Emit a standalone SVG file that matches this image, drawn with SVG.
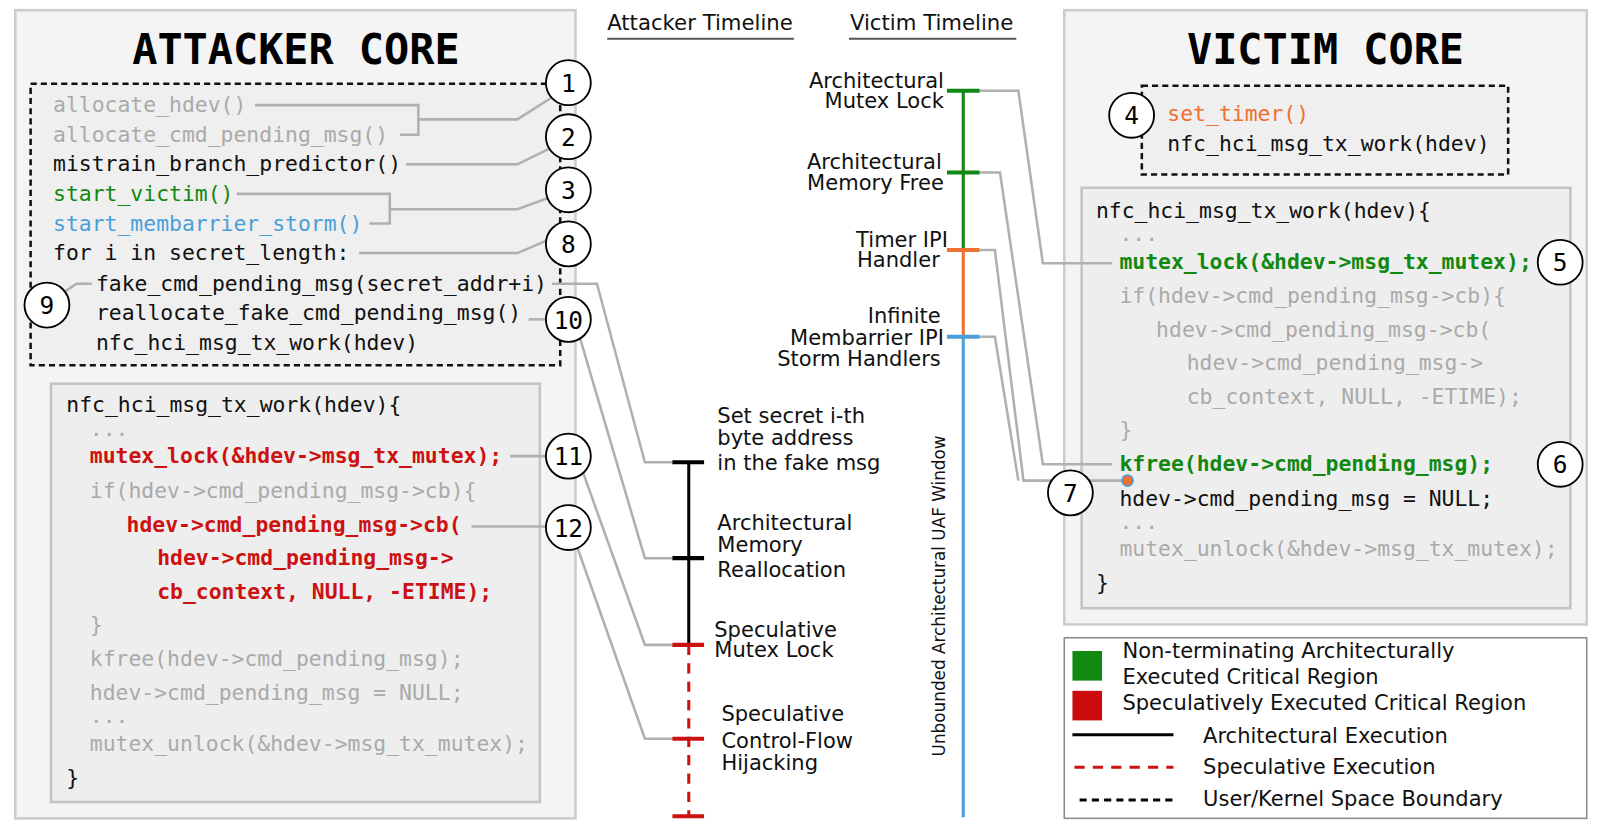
<svg xmlns="http://www.w3.org/2000/svg" width="1600" height="832" viewBox="0 0 1600 832">
<style>
.core{fill:#f4f4f4;stroke:#cccccc;stroke-width:2.5}
.code{fill:#eeeeee;stroke:#c4c4c4;stroke-width:2.5}
.ub{fill:#efefef;stroke:#111;stroke-width:2.5;stroke-dasharray:6 4}
.title{font-family:"DejaVu Sans Mono",monospace;font-weight:bold;font-size:41px;fill:#000}
.m{font-family:"DejaVu Sans Mono",monospace;font-size:21px;fill:#111}
.b{font-weight:bold}
.g{fill:#aaaaaa}
.red{fill:#cc1111}
.grn{fill:#118811}
.blu{fill:#4a9fd8}
.org{fill:#f07030}
.s{font-family:"DejaVu Sans",Verdana,sans-serif;font-size:20.6px;fill:#111}
.lead{fill:none;stroke:#b0b0b0;stroke-width:2.5;stroke-linejoin:miter}
.num circle{fill:#fff;stroke:#000;stroke-width:1.8}
.num text{font-family:"DejaVu Sans Mono",monospace;font-size:24px;fill:#000;text-anchor:middle}
.hdr{font-family:"DejaVu Sans",Verdana,sans-serif;font-size:20.8px;fill:#111;text-anchor:middle}
</style>
<g transform="scale(1.0204)">
<!-- Attacker core -->
<g id="attacker-core">
<rect class="core" x="15" y="10" width="549" height="792"/>
<text class="title" x="290" y="63" text-anchor="middle">ATTACKER CORE</text>
<rect class="ub" x="30" y="82" width="519" height="276"/>
<text class="m g" x="52" y="110">allocate_hdev()</text>
<text class="m g" x="52" y="139">allocate_cmd_pending_msg()</text>
<text class="m" x="52" y="168">mistrain_branch_predictor()</text>
<text class="m grn" x="52" y="197">start_victim()</text>
<text class="m blu" x="52" y="226">start_membarrier_storm()</text>
<text class="m" x="52" y="255">for i in secret_length:</text>
<text class="m" x="94" y="285">fake_cmd_pending_msg(secret_addr+i)</text>
<text class="m" x="94" y="314">reallocate_fake_cmd_pending_msg()</text>
<text class="m" x="94" y="343">nfc_hci_msg_tx_work(hdev)</text>
</g>

<g id="attacker-code">
<rect class="code" x="50" y="376" width="479" height="410"/>
<text class="m" x="65" y="404">nfc_hci_msg_tx_work(hdev){</text>
<text class="m g" x="88" y="427">...</text>
<text class="m b red" x="88" y="454">mutex_lock(&amp;hdev-&gt;msg_tx_mutex);</text>
<text class="m g" x="88" y="488">if(hdev-&gt;cmd_pending_msg-&gt;cb){</text>
<text class="m b red" x="124" y="521">hdev-&gt;cmd_pending_msg-&gt;cb(</text>
<text class="m b red" x="154" y="554">hdev-&gt;cmd_pending_msg-&gt;</text>
<text class="m b red" x="154" y="587">cb_context, NULL, -ETIME);</text>
<text class="m g" x="88" y="619">}</text>
<text class="m g" x="88" y="653">kfree(hdev-&gt;cmd_pending_msg);</text>
<text class="m g" x="88" y="686">hdev-&gt;cmd_pending_msg = NULL;</text>
<text class="m g" x="88" y="709">...</text>
<text class="m g" x="88" y="736">mutex_unlock(&amp;hdev-&gt;msg_tx_mutex);</text>
<text class="m" x="65" y="769">}</text>
</g>

<!-- Victim core -->
<g id="victim-core">
<rect class="core" x="1043" y="10" width="512" height="602"/>
<text class="title" x="1299" y="63" text-anchor="middle">VICTIM CORE</text>
<rect class="ub" x="1119" y="84" width="359" height="87"/>
<text class="m org" x="1144" y="119">set_timer()</text>
<text class="m" x="1144" y="148">nfc_hci_msg_tx_work(hdev)</text>
</g>

<g id="victim-code">
<rect class="code" x="1060" y="184" width="479" height="412"/>
<text class="m" x="1074" y="214">nfc_hci_msg_tx_work(hdev){</text>
<text class="m g" x="1097" y="236">...</text>
<text class="m b grn" x="1097" y="264">mutex_lock(&amp;hdev-&gt;msg_tx_mutex);</text>
<text class="m g" x="1097" y="297">if(hdev-&gt;cmd_pending_msg-&gt;cb){</text>
<text class="m g" x="1133" y="330">hdev-&gt;cmd_pending_msg-&gt;cb(</text>
<text class="m g" x="1163" y="363">hdev-&gt;cmd_pending_msg-&gt;</text>
<text class="m g" x="1163" y="396">cb_context, NULL, -ETIME);</text>
<text class="m g" x="1097" y="428">}</text>
<text class="m b grn" x="1097" y="462">kfree(hdev-&gt;cmd_pending_msg);</text>
<text class="m" x="1097" y="496">hdev-&gt;cmd_pending_msg = NULL;</text>
<text class="m g" x="1097" y="518">...</text>
<text class="m g" x="1097" y="545">mutex_unlock(&amp;hdev-&gt;msg_tx_mutex);</text>
<text class="m" x="1074" y="578">}</text>
</g>

<!-- Timeline headers -->
<g id="headers">
<text class="hdr" x="686" y="29">Attacker Timeline</text>
<line x1="595" y1="38" x2="778" y2="38" stroke="#555" stroke-width="1.8"/>
<text class="hdr" x="913" y="29">Victim Timeline</text>
<line x1="832" y1="38" x2="996" y2="38" stroke="#555" stroke-width="1.8"/>
</g>

<!-- Connectors -->
<g id="connectors">
<polyline class="lead" points="250,103 410,103 410,132 392,132"/>
<polyline class="lead" points="410,117 507,117 540,96"/>
<polyline class="lead" points="398,161 507,161 540,145"/>
<polyline class="lead" points="232,190 382,190 382,219 362,219"/>
<polyline class="lead" points="382,205 507,205 540,193"/>
<polyline class="lead" points="352,248 507,248 540,234"/>
<polyline class="lead" points="90,278 75,278 63,286"/>
<polyline class="lead" points="518,313 537,313"/>
<polyline class="lead" points="541,278 585,278 632,453 660,453"/>
<polyline class="lead" points="568,330 632,547 660,547"/>
<polyline class="lead" points="500,447 537,447"/>
<polyline class="lead" points="571,462 632,632 660,632"/>
<polyline class="lead" points="462,516 537,516"/>
<polyline class="lead" points="566,537 632,724 660,724"/>
<polyline class="lead" points="960,89 998,89 1022,258 1090,258"/>
<polyline class="lead" points="960,169 980,169 1022,455 1090,455"/>
<polyline class="lead" points="960,245 975,245 1003,471 1105,471"/>
<polyline class="lead" points="960,330 975,330 998,471"/>
</g>

<!-- Attacker timeline -->
<g id="attacker-timeline">
<line x1="675" y1="453" x2="675" y2="632" stroke="#000" stroke-width="3"/>
<line x1="675" y1="632" x2="675" y2="800" stroke="#cc1111" stroke-width="3" stroke-dasharray="10 8"/>
<line x1="659" y1="453" x2="690" y2="453" stroke="#000" stroke-width="4"/>
<line x1="659" y1="547" x2="690" y2="547" stroke="#000" stroke-width="4"/>
<line x1="659" y1="632" x2="690" y2="632" stroke="#cc1111" stroke-width="4"/>
<line x1="659" y1="724" x2="690" y2="724" stroke="#cc1111" stroke-width="4"/>
<line x1="659" y1="800" x2="690" y2="800" stroke="#cc1111" stroke-width="4"/>
<text class="s" x="703" y="415">Set secret i-th</text>
<text class="s" x="703" y="436">byte address</text>
<text class="s" x="703" y="461">in the fake msg</text>
<text class="s" x="703" y="519">Architectural</text>
<text class="s" x="703" y="541">Memory</text>
<text class="s" x="703" y="565">Reallocation</text>
<text class="s" x="700" y="624">Speculative</text>
<text class="s" x="700" y="644">Mutex Lock</text>
<text class="s" x="707" y="707">Speculative</text>
<text class="s" x="707" y="733">Control-Flow</text>
<text class="s" x="707" y="755">Hijacking</text>
</g>

<!-- Victim timeline -->
<g id="victim-timeline">
<line x1="944" y1="89" x2="944" y2="245" stroke="#118811" stroke-width="3"/>
<line x1="944" y1="245" x2="944" y2="330" stroke="#f07030" stroke-width="3"/>
<line x1="944" y1="330" x2="944" y2="801" stroke="#4a9fd8" stroke-width="3"/>
<line x1="928" y1="89" x2="960" y2="89" stroke="#118811" stroke-width="4"/>
<line x1="928" y1="169" x2="960" y2="169" stroke="#118811" stroke-width="4"/>
<line x1="928" y1="245" x2="960" y2="245" stroke="#f07030" stroke-width="4"/>
<line x1="928" y1="330" x2="960" y2="330" stroke="#4a9fd8" stroke-width="4"/>
<text class="s" x="925" y="86" text-anchor="end">Architectural</text>
<text class="s" x="925" y="106" text-anchor="end">Mutex Lock</text>
<text class="s" x="923" y="166" text-anchor="end">Architectural</text>
<text class="s" x="925" y="186" text-anchor="end">Memory Free</text>
<text class="s" x="929" y="242" text-anchor="end">Timer IPI</text>
<text class="s" x="921" y="262" text-anchor="end">Handler</text>
<text class="s" x="922" y="317" text-anchor="end">Infinite</text>
<text class="s" x="925" y="338" text-anchor="end">Membarrier IPI</text>
<text class="s" x="922" y="359" text-anchor="end">Storm Handlers</text>
<text class="s" transform="translate(926,584) rotate(-90)" text-anchor="middle" style="font-size:16.5px">Unbounded Architectural UAF Window</text>
<circle cx="1105" cy="471" r="5.5" fill="#f07030" stroke="#4a9fd8" stroke-width="1.5"/>
</g>

<!-- Numbered markers -->
<g id="n1" class="num"><circle cx="557" cy="81" r="22"/><text x="557" y="90">1</text></g>
<g id="n2" class="num"><circle cx="557" cy="134" r="22"/><text x="557" y="143">2</text></g>
<g id="n3" class="num"><circle cx="557" cy="186" r="22"/><text x="557" y="195">3</text></g>
<g id="n8" class="num"><circle cx="557" cy="239" r="22"/><text x="557" y="248">8</text></g>
<g id="n9" class="num"><circle cx="46" cy="299" r="22"/><text x="46" y="308">9</text></g>
<g id="n10" class="num"><circle cx="557" cy="313" r="22"/><text x="557" y="322">10</text></g>
<g id="n11" class="num"><circle cx="557" cy="447" r="22"/><text x="557" y="456">11</text></g>
<g id="n12" class="num"><circle cx="557" cy="517" r="22"/><text x="557" y="526">12</text></g>
<g id="n4" class="num"><circle cx="1109" cy="113" r="22"/><text x="1109" y="122">4</text></g>
<g id="n5" class="num"><circle cx="1529" cy="257" r="22"/><text x="1529" y="266">5</text></g>
<g id="n6" class="num"><circle cx="1529" cy="455" r="22"/><text x="1529" y="464">6</text></g>
<g id="n7" class="num"><circle cx="1049" cy="483" r="22"/><text x="1049" y="492">7</text></g>

<!-- Legend -->
<g id="legend">
<rect x="1043" y="625" width="512" height="177" fill="#fff" stroke="#888" stroke-width="1.5"/>
<rect x="1051" y="638" width="29" height="29" fill="#128a12"/>
<rect x="1051" y="677" width="29" height="29" fill="#cc0c0c"/>
<text class="s" x="1100" y="645">Non-terminating Architecturally</text>
<text class="s" x="1100" y="670">Executed Critical Region</text>
<text class="s" x="1100" y="696">Speculatively Executed Critical Region</text>
<line x1="1051" y1="720" x2="1150" y2="720" stroke="#000" stroke-width="3"/>
<text class="s" x="1179" y="728">Architectural Execution</text>
<line x1="1053" y1="752" x2="1150" y2="752" stroke="#cc1111" stroke-width="3" stroke-dasharray="10 8"/>
<text class="s" x="1179" y="759">Speculative Execution</text>
<line x1="1058" y1="784" x2="1150" y2="784" stroke="#000" stroke-width="3" stroke-dasharray="7 5"/>
<text class="s" x="1179" y="790">User/Kernel Space Boundary</text>
</g>
</g>
</svg>
